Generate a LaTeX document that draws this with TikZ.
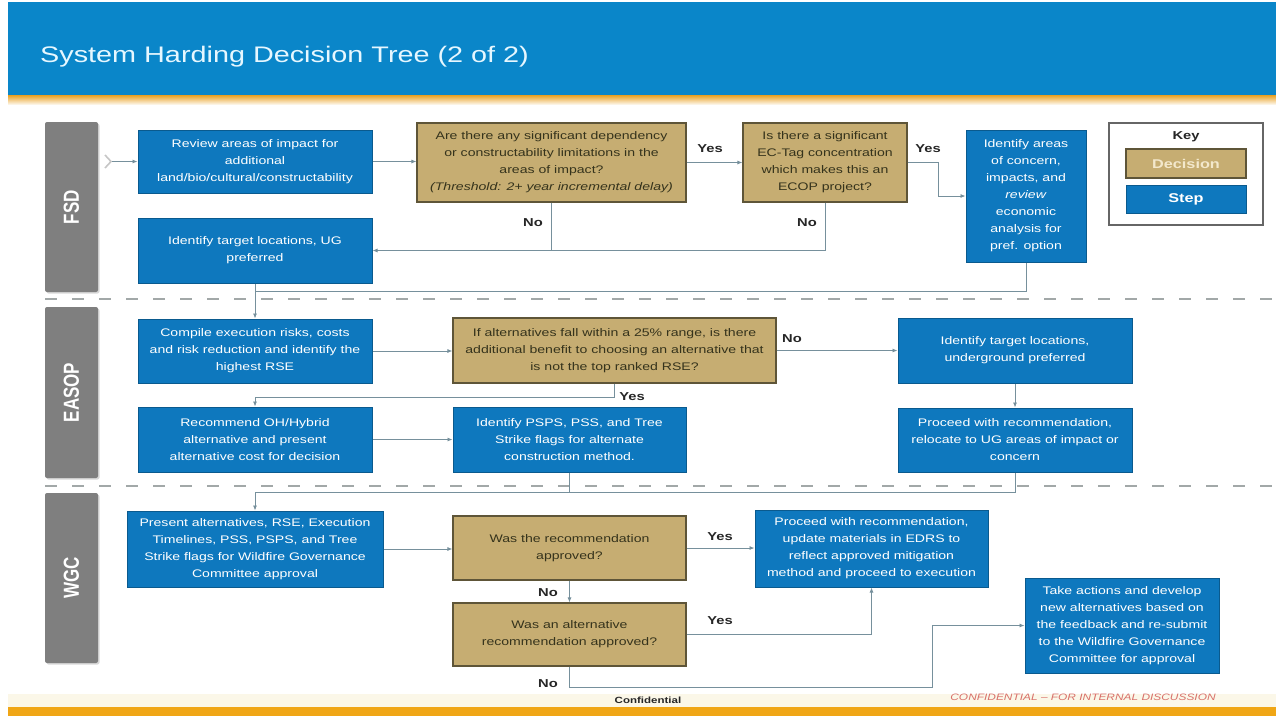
\documentclass[tikz,border=0pt]{standalone}
\usepackage{fontspec}
\usepackage{graphicx}
\setmainfont{Liberation Sans}[FakeStretch=1.28]
\newfontfamily\lanefont{Liberation Sans}
\usetikzlibrary{arrows.meta,shadows,calc}
\definecolor{hdrblue}{HTML}{0A86C9}
\definecolor{titlecol}{HTML}{E6F7FF}
\definecolor{stepblue}{HTML}{0E78BE}
\definecolor{stepedge}{HTML}{0A5A8E}
\definecolor{dectan}{HTML}{C6AD72}
\definecolor{decedge}{HTML}{5E5538}
\definecolor{dectext}{HTML}{35331C}
\definecolor{keytext}{HTML}{F3E8CC}
\definecolor{lanegray}{HTML}{7F7F7F}
\definecolor{linecol}{HTML}{76909C}
\definecolor{sepgray}{HTML}{A2A8A8}
\definecolor{orangeA}{HTML}{E9A020}
\definecolor{orangeB}{HTML}{F0A616}
\definecolor{creamA}{HTML}{FBF7E8}
\definecolor{confred}{HTML}{D8706A}
\tikzset{
  boxfont/.style={font=\fontsize{11}{17}\selectfont},
  stepbox/.style={draw=stepedge, line width=1pt, fill=stepblue, text=white, align=center, boxfont, inner sep=2pt},
  decbox/.style={draw=decedge, line width=1.2pt, fill=dectan, text=dectext, align=center, boxfont, inner sep=2pt},
  lanebox/.style={fill=lanegray, rounded corners=2pt, drop shadow={opacity=0.3, shadow xshift=1.5pt, shadow yshift=-1.5pt}},
  lanelabel/.style={rotate=90, text=white, font=\lanefont\bfseries\fontsize{17}{20}\selectfont},
  conn/.style={draw=linecol, line width=0.8pt, -{Latex[length=5pt,width=4pt]}},
  plainline/.style={draw=linecol, line width=0.8pt},
  yn/.style={font=\bfseries\fontsize{11.5}{13}\selectfont, text=black!85},
  sepline/.style={draw=sepgray, line width=2pt, dash pattern=on 12pt off 15pt},
}
\begin{document}
\begin{tikzpicture}[x=1pt,y=-1pt]
\useasboundingbox (0,0) rectangle (1276,716);
\fill[white] (0,0) rectangle (1276,716);
% header and footer bands
\fill[hdrblue] (8,2) rectangle (1276,95);
\shade[top color=orangeA, bottom color=orangeA!12] (8,95) rectangle (1276,104);
\fill[creamA] (8,694) rectangle (1276,707);
\fill[orangeB] (8,707) rectangle (1276,716);
\node[anchor=base west, text=titlecol, font=\fontsize{22.5}{27}\selectfont, inner sep=0pt] (title) at (40,62) {System Harding Decision Tree (2 of 2)};

% lanes
\node[lanebox, minimum width=53, minimum height=170] (laneF) at (71.5,207) {};
\node[lanelabel] (laneFt) at (laneF) {\scalebox{1}[1.28]{FSD}};
\node[lanebox, minimum width=53, minimum height=171] (laneE) at (71.5,392.5) {};
\node[lanelabel] (laneEt) at (laneE) {\scalebox{1}[1.28]{EASOP}};
\node[lanebox, minimum width=53, minimum height=170] (laneW) at (71.5,578) {};
\node[lanelabel] (laneWt) at (laneW) {\scalebox{1}[1.28]{WGC}};

% separators
\draw[sepline] (45,299) -- (1272,299);
\draw[sepline] (45,486) -- (1272,486);

% FSD row
\node[stepbox, minimum width=234, minimum height=63] (A) at (255,161.5) {Review areas of impact for\\additional\\land/bio/cultural/constructability};
\node[stepbox, minimum width=234, minimum height=65] (B) at (255,250.5) {Identify target locations, UG\\preferred};
\node[decbox, minimum width=269, minimum height=79] (D1) at (551.5,162.5) {Are there any significant dependency\\or constructability limitations in the\\areas of impact?\\\textit{(Threshold: 2+ year incremental delay)}};
\node[decbox, minimum width=164, minimum height=79] (D2) at (825,162.5) {Is there a significant\\EC-Tag concentration\\which makes this an\\ECOP project?};
\node[stepbox, minimum width=120, minimum height=132] (C) at (1026,196) {Identify areas\\of concern,\\impacts, and\\\textit{review}\\economic\\analysis for\\pref. option};

% key
\node[draw=black!60, line width=1.5pt, fill=white, minimum width=154, minimum height=102] (key) at (1186,174) {};
\node[font=\bfseries\fontsize{11.5}{13}\selectfont, text=black!85] (keyt) at (1186,137) {Key};
\node[draw=decedge, line width=1.2pt, fill=dectan, text=keytext, font=\bfseries\fontsize{12.7}{14}\selectfont, minimum width=120, minimum height=29] (keyD) at (1186,163.5) {Decision};
\node[draw=stepedge, line width=1pt, fill=stepblue, text=white, font=\bfseries\fontsize{12.7}{14}\selectfont, minimum width=120, minimum height=28] (keyS) at (1186,199) {Step};

% EASOP row
\node[stepbox, minimum width=234, minimum height=64] (E) at (255,351) {Compile execution risks, costs\\and risk reduction and identify the\\highest RSE};
\node[decbox, minimum width=323, minimum height=65] (D3) at (614.5,350.5) {If alternatives fall within a 25\% range, is there\\additional benefit to choosing an alternative that\\is not the top ranked RSE?};
\node[stepbox, minimum width=234, minimum height=65] (F) at (1015,350.5) {Identify target locations,\\underground preferred};
\node[stepbox, minimum width=234, minimum height=65] (H) at (255,439.5) {Recommend OH/Hybrid\\alternative and present\\alternative cost for decision};
\node[stepbox, minimum width=233, minimum height=65] (I) at (569.5,439.5) {Identify PSPS, PSS, and Tree\\Strike flags for alternate\\construction method.};
\node[stepbox, minimum width=234, minimum height=64] (G) at (1015,440) {Proceed with recommendation,\\relocate to UG areas of impact or\\concern};

% WGC row
\node[stepbox, minimum width=256, minimum height=76] (J) at (255,549) {Present alternatives, RSE, Execution\\Timelines, PSS, PSPS, and Tree\\Strike flags for Wildfire Governance\\Committee approval};
\node[decbox, minimum width=233, minimum height=64] (K) at (569.5,548) {Was the recommendation\\approved?};
\node[stepbox, minimum width=233, minimum height=77] (L) at (871.5,548.5) {Proceed with recommendation,\\update materials in EDRS to\\reflect approved mitigation\\method and proceed to execution};
\node[decbox, minimum width=233, minimum height=63] (M) at (569.5,634.5) {Was an alternative\\recommendation approved?};
\node[stepbox, minimum width=194, minimum height=95] (N) at (1122,625.5) {Take actions and develop\\new alternatives based on\\the feedback and re-submit\\to the Wildfire Governance\\Committee for approval};

% start marker
\coordinate (s0) at (112,161.5);
\draw[gray!45, line width=1.6pt] (105,155) -- (111,161.5) -- (105,168);

% connectors
\draw[conn] (s0) -- (A.west);
\draw[conn] (A.east) -- (A.east -| D1.west);
\draw[conn] (D1.east) -- (D2.west);
\draw[conn] (D1.south) |- (B.east);
\draw[plainline] (D2.south) |- (D1.south |- B.east);
\draw[conn] (D2.east) -- ++(31,0) |- (C.west);
\coordinate (j1) at (255,291);
\draw[conn] (B.south) -- (E.north);
\draw[plainline] (C.south) |- (j1);
\draw[conn] (E.east) -- (E.east -| D3.west);
\draw[conn] (D3.east) -- (D3.east -| F.west);
\draw[conn] (F.south) -- (G.north);
\coordinate (j2) at (614.5,397);
\draw[conn] (D3.south) -- (j2) -| (H.north);
\draw[conn] (H.east) -- (I.west);
\coordinate (j3) at (569.5,492);
\draw[conn] (I.south) -- (j3) -| (J.north);
\draw[plainline] (G.south) |- (j3);
\draw[conn] (J.east) -- (J.east -| K.west);
\draw[conn] (K.east) -- (K.east -| L.west);
\draw[conn] (K.south) -- (M.north);
\draw[conn] (M.east) -| (L.south);
\coordinate (j4) at (569.5,687);
\coordinate (j5) at (932,687);
\draw[conn] (M.south) -- (j4) -- (j5) |- (N.west);

% labels
\node[yn] (y1) at (710,149) {Yes};
\node[yn] (n1) at (533,223) {No};
\node[yn] (n2) at (807,223) {No};
\node[yn] (y2) at (928,149) {Yes};
\node[yn] (n3) at (792,339) {No};
\node[yn] (y3) at (632,397) {Yes};
\node[yn] (y4) at (720,537) {Yes};
\node[yn] (n4) at (548,593) {No};
\node[yn] (y5) at (720,621) {Yes};
\node[yn] (n5) at (548,684) {No};

% footer
\node[font=\bfseries\fontsize{9}{11}\selectfont, text=black!85] (conf) at (648,700) {Confidential};
\node[font=\itshape\fontsize{9.3}{11}\selectfont, text=confred] (conf2) at (1083,697) {CONFIDENTIAL – FOR INTERNAL DISCUSSION};
\end{tikzpicture}
\end{document}
